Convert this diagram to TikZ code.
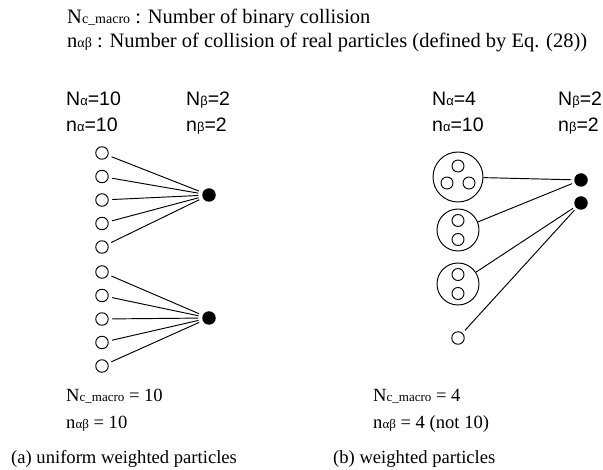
\documentclass[tikz,border=0pt]{standalone}
\usepackage{fontspec}
\setmainfont{Liberation Serif}
\newfontfamily\lsans{Liberation Sans}
\begin{document}
\begin{tikzpicture}[x=1pt,y=-1pt,
  serif/.style={anchor=base west,inner sep=0pt,font=\fontsize{18.6}{22}\selectfont},
  titletext/.style={anchor=base west,inner sep=0pt,font=\fontsize{20.5}{24}\selectfont},
  sans/.style={anchor=base west,inner sep=0pt,font=\lsans\fontsize{19.5}{22}\selectfont},
  conn/.style={line width=0.95pt},
  opencirc/.style={circle,draw,line width=0.95pt,minimum size=12.5pt,inner sep=0pt,outer sep=4pt},
  fillcirc/.style={circle,fill=black,minimum size=13.5pt,inner sep=0pt,outer sep=4pt},
  bigcirc/.style={circle,draw,line width=0.95pt,inner sep=0pt,outer sep=0.5pt},
  innercirc/.style={circle,draw,line width=0.95pt,minimum size=12pt,inner sep=0pt}]
\newcommand{\sm}[1]{{\fontsize{13}{14}\selectfont #1}}
\newcommand{\tsm}[1]{{\fontsize{14}{15}\selectfont #1}}
\newcommand{\gk}[1]{{\fontsize{13}{14}\selectfont #1}}
\useasboundingbox (0,0) rectangle (603,470);
% title
\node[titletext] (t1) at (67,24) {N\tsm{c\_macro} : Number of binary collision};
\node[titletext] (t2) at (67,48) {n\tsm{αβ} : Number of collision of real particles (defined by Eq. (28))};
% left labels
\node[sans] (la1) at (66,106) {N\gk{α}=10};
\node[sans] (la2) at (66,132) {n\gk{α}=10};
\node[sans] (lb1) at (186,106) {N\gk{β}=2};
\node[sans] (lb2) at (186,132) {n\gk{β}=2};
% left circles
\foreach \i/\y in {1/153,2/176.5,3/200,4/223.5,5/247,6/272,7/295.5,8/319,9/342.5,10/366}
  \node[opencirc] (a\i) at (102,\y) {};
\node[fillcirc] (b1) at (209,195) {};
\node[fillcirc] (b2) at (209,318) {};
\foreach \i in {1,...,5} \draw[conn] (a\i) -- (b1);
\foreach \i in {6,...,10} \draw[conn] (a\i) -- (b2);
% left bottom
\node[serif] (lc1) at (66,402) {N\sm{c\_macro} = 10};
\node[serif] (lc2) at (66,429) {n\sm{αβ} = 10};
\node[serif] (cap1) at (11,464) {(a) uniform weighted particles};
% right labels
\node[sans] (ra1) at (432,106) {N\gk{α}=4};
\node[sans] (ra2) at (432,132) {n\gk{α}=10};
\node[sans] (rb1) at (558,106) {N\gk{β}=2};
\node[sans] (rb2) at (558,132) {n\gk{β}=2};
% right circles
\node[bigcirc,minimum size=50pt] (c1) at (458,177) {};
\node[innercirc] (c1a) at (458,166) {};
\node[innercirc] (c1b) at (447,183) {};
\node[innercirc] (c1c) at (469,183) {};
\node[bigcirc,minimum size=42pt] (c2) at (458,230) {};
\node[innercirc] (c2a) at (458,220.5) {};
\node[innercirc] (c2b) at (458,239.5) {};
\node[bigcirc,minimum size=42pt] (c3) at (458,284) {};
\node[innercirc] (c3a) at (458,274.5) {};
\node[innercirc] (c3b) at (458,293.5) {};
\node[opencirc] (s) at (458,338) {};
\node[fillcirc,outer sep=3pt] (d1) at (581,180) {};
\node[fillcirc,outer sep=3pt] (d2) at (581,203) {};
\draw[conn] (c1) -- (d1);
\draw[conn] (c2) -- (d1);
\draw[conn] (c3) -- (d2);
\draw[conn] (s) -- (d2);
% right bottom
\node[serif] (rc1) at (373,402) {N\sm{c\_macro} = 4};
\node[serif] (rc2) at (373,429) {n\sm{αβ} = 4 (not 10)};
\node[serif] (cap2) at (333,464) {(b) weighted particles};
\end{tikzpicture}
\end{document}
